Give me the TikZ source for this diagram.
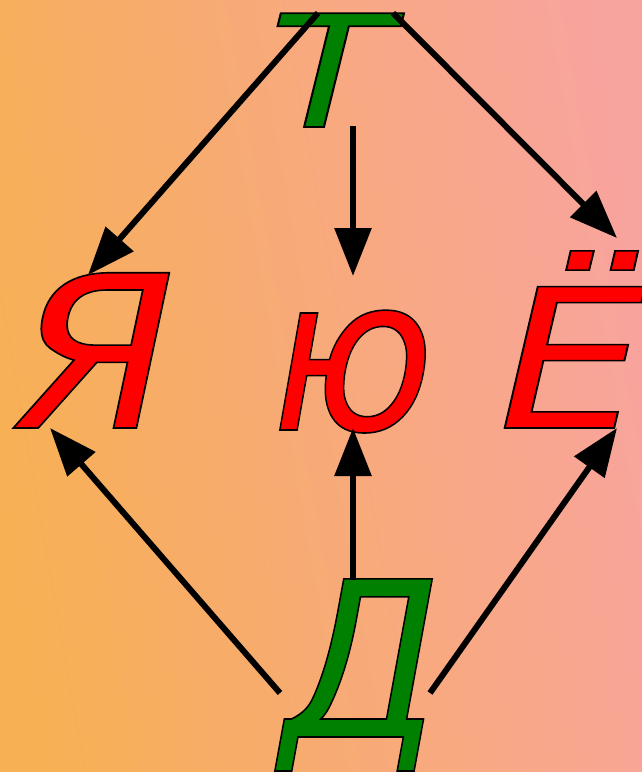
\documentclass[tikz,border=0pt]{standalone}
\usepackage{fontspec}
\setmainfont{DejaVu Sans}
\usetikzlibrary{arrows.meta}
\definecolor{bgleft}{RGB}{247,176,84}
\definecolor{bgright}{RGB}{248,164,158}
\definecolor{lgreen}{RGB}{0,128,0}
\definecolor{lred}{RGB}{255,0,0}
\newcommand{\outl}[1]{\special{pdf:code 2 Tr 0 0 0 RG 1.6 w}#1\special{pdf:code 0 Tr}}
\tikzset{
  letter/.style={anchor=base, inner sep=0pt, outer sep=0pt},
  arr/.style={line width=6pt, -{Triangle[length=48pt,width=36pt]}},
}
\begin{document}
\begin{tikzpicture}[x=1pt,y=-1pt]
\shade[left color=bgleft, right color=bgright, shading angle=100] (0,0) rectangle (642,772);
\useasboundingbox (0,0) rectangle (642,772);
\node[letter, text=lgreen, font=\fontsize{156pt}{156pt}\selectfont\itshape] (T) at (330,127) {\scalebox{1.28}[1]{\outl{Т}}};
\node[letter, text=lred, font=\fontsize{213pt}{213pt}\selectfont\itshape] (Ya) at (95,428) {\scalebox{1.09}[1]{\outl{Я}}};
\node[letter, text=lred, font=\fontsize{214pt}{214pt}\selectfont\itshape] (Yu) at (353,430) {\scalebox{0.9}[1]{\outl{ю}}};
\node[letter, text=lred, font=\fontsize{194pt}{194pt}\selectfont\itshape] (Yo) at (572,428) {\scalebox{1.2}[1]{\outl{Ё}}};
\node[letter, text=lgreen, font=\fontsize{217pt}{217pt}\selectfont\itshape] (D) at (362,737) {\scalebox{0.94}[1]{\outl{Д}}};
\coordinate (t1) at (318,13);
\coordinate (t2) at (393,13);
\coordinate (t3) at (353,126);
\coordinate (ya1) at (88,275);
\coordinate (yu1) at (353,276);
\coordinate (yo1) at (617,238);
\coordinate (ya2) at (50,428);
\coordinate (yu2) at (353,428);
\coordinate (yo2) at (617,428);
\coordinate (d1) at (280,693);
\coordinate (d2) at (353,580);
\coordinate (d3) at (430,693);
\draw[arr] (t1) -- (ya1);
\draw[arr] (t3) -- (yu1);
\draw[arr] (t2) -- (yo1);
\draw[arr] (d1) -- (ya2);
\draw[arr] (d2) -- (yu2);
\draw[arr] (d3) -- (yo2);
\end{tikzpicture}
\end{document}
